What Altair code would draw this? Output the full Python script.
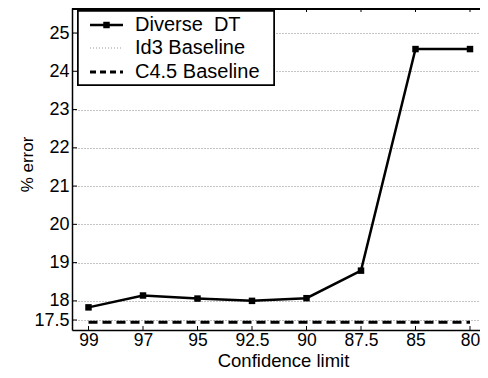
import altair as alt
import pandas as pd
import json

# ---- data ----
conf_labels = ["99", "97", "95", "92.5", "90", "87.5", "85", "80"]
diverse_dt = [17.83, 18.14, 18.06, 18.00, 18.07, 18.79, 24.58, 24.58]
c45_baseline = 17.44
y_ticks = [17.5, 18, 19, 20, 21, 22, 23, 24, 25]
legend_labels = ["Diverse \u00a0DT", "Id3 Baseline", "C4.5 Baseline"]

LEFT = 64
W, H = 472 - LEFT, 322
STEP = 54.5
FONT = "Liberation Sans"
idx = list(range(len(conf_labels)))
x0 = 16.5 / STEP
xdom = [-x0, -x0 + W / STEP]
pxu = 287 / 7.5
ydom = [17.5 - (H - 312) / pxu, 25 + 25 / pxu]

df = pd.DataFrame({"i": idx, "err": diverse_dt})
label_expr = json.dumps(conf_labels) + "[datum.value]"

xs = alt.Scale(domain=xdom, nice=False, zero=False)
ys = alt.Scale(domain=ydom, nice=False, zero=False)

x_axis = alt.Axis(values=idx, labelExpr=label_expr, tickSize=0, grid=False,
                  domainColor="black", domainWidth=1.5, labelFontSize=17.5,
                  labelPadding=1, labelColor="black", labelFont=FONT,
                  title="Confidence limit", titleFontSize=18.5, titleFont=FONT,
                  titleFontWeight="normal", titleColor="black",
                  titleX=211, titleY=36, titleBaseline="alphabetic", titleAlign="center")
y_axis = alt.Axis(values=y_ticks, labelExpr="'' + datum.value", tickSize=0, grid=True,
                  gridDash=[1, 2], gridColor="#888888", gridWidth=1,
                  domainColor="black", domainWidth=1.5, labelFontSize=18,
                  labelPadding=3, labelColor="black", labelFont=FONT,
                  title="% error", titleFontSize=17, titleFont=FONT,
                  titleFontWeight="normal", titleColor="black", titleAngle=-90,
                  titleX=-45, titleY=156, titleAlign="center", titleBaseline="middle")

line = alt.Chart(df).mark_line(color="black", strokeWidth=2.5).encode(
    x=alt.X("i:Q", scale=xs, axis=x_axis),
    y=alt.Y("err:Q", scale=ys, axis=y_axis),
)
pts = alt.Chart(df).mark_point(shape="square", filled=True, color="black", size=42, opacity=1).encode(
    x=alt.X("i:Q", scale=xs), y=alt.Y("err:Q", scale=ys))

c45 = alt.Chart(pd.DataFrame({"a": [idx[0]], "b": [idx[-1]], "v": [c45_baseline]})).mark_rule(
    color="black", strokeWidth=3, strokeDash=[9, 5]).encode(
    x=alt.X("a:Q", scale=xs), x2="b:Q", y=alt.Y("v:Q", scale=ys))

tick_df = pd.DataFrame({"i": idx})
top_ticks = alt.Chart(tick_df).mark_rule(color="black", strokeWidth=1).encode(
    x=alt.X("i:Q", scale=xs), y=alt.value(0), y2=alt.value(4))
bot_ticks = alt.Chart(tick_df).mark_rule(color="black", strokeWidth=1).encode(
    x=alt.X("i:Q", scale=xs), y=alt.value(H - 4), y2=alt.value(H))
left_ticks = alt.Chart(pd.DataFrame({"v": y_ticks})).mark_rule(color="black", strokeWidth=1).encode(
    y=alt.Y("v:Q", scale=ys), x=alt.value(0), x2=alt.value(5))
top_line = alt.Chart(tick_df).mark_rule(color="black", strokeWidth=1.5).encode(
    y=alt.value(0.75), x=alt.value(0), x2=alt.value(W))

# legend
box = alt.Chart(tick_df).mark_rect(fill="white", stroke="black", strokeWidth=1.5).encode(
    x=alt.value(6), x2=alt.value(202), y=alt.value(3), y2=alt.value(77))
rows_y = [17, 40, 64]
leg_layers = [box]
styles = [dict(color="black", strokeWidth=2.5),
          dict(color="#999999", strokeWidth=1, strokeDash=[1, 2]),
          dict(color="black", strokeWidth=3, strokeDash=[6, 4])]
for k, (lab, ry) in enumerate(zip(legend_labels, rows_y)):
    d = pd.DataFrame({"t": [lab]})
    leg_layers.append(alt.Chart(d).mark_rule(**styles[k]).encode(
        x=alt.value(18), x2=alt.value(51), y=alt.value(ry)))
    leg_layers.append(alt.Chart(d).mark_text(align="left", baseline="middle", fontSize=20,
                                             font=FONT, color="black").encode(
        x=alt.value(63), y=alt.value(ry), text="t:N"))
leg_layers.append(alt.Chart(tick_df.head(1)).mark_point(shape="square", filled=True, color="black",
                                                         size=42, opacity=1).encode(
    x=alt.value(34.5), y=alt.value(rows_y[0])))

chart = alt.layer(line, c45, pts, top_ticks, bot_ticks, left_ticks, top_line, *leg_layers).properties(
    width=W, height=H,
    autosize=alt.AutoSizeParams(type="none"),
    padding={"left": LEFT, "top": 0, "right": 0, "bottom": 362 - H},
).configure_view(stroke=None).configure(background="white")

chart.save("out.html", embed_options={"renderer": "svg", "actions": False})
